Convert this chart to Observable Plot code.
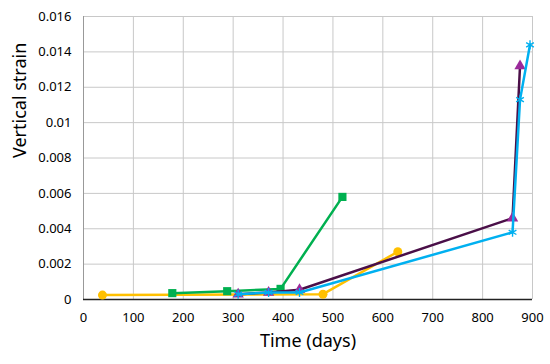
<!DOCTYPE html>
<html><head><meta charset="utf-8">
<script src="https://cdn.jsdelivr.net/npm/d3@7"></script>
<script src="https://cdn.jsdelivr.net/npm/@observablehq/plot@0.6"></script>
<style>body{margin:0;background:#fff}</style>
</head><body><div id="chart"></div>
<script>
const xTicks = [0,100,200,300,400,500,600,700,800,900];
const yTicks = [0,0.002,0.004,0.006,0.008,0.01,0.012,0.014,0.016];
const yTickLabels = ["0","0.002","0.004","0.006","0.008","0.01","0.012","0.014","0.016"];

const yellowDays = [38, 480, 630];
const yellowStrain = [0.00025, 0.0003, 0.0027];
const greenDays = [178, 288, 395, 519];
const greenStrain = [0.00036, 0.00047, 0.0006, 0.0058];
const purpleDays = [310, 371, 433, 860, 875];
const purpleStrain = [0.0003, 0.0004, 0.00055, 0.0046, 0.0132];
const blueDays = [310, 371, 433, 860, 875, 895];
const blueStrain = [0.0003, 0.0004, 0.0004, 0.0038, 0.0113, 0.0144];

const toRows = (xs, ys) => xs.map((x, i) => ({x, y: ys[i]}));
const yellow = toRows(yellowDays, yellowStrain);
const green = toRows(greenDays, greenStrain);
const purple = toRows(purpleDays, purpleStrain);
const blue = toRows(blueDays, blueStrain);

const font = "'Noto Sans', sans-serif";
const chart = Plot.plot({
  width: 550, height: 364,
  marginLeft: 83, marginRight: 18, marginTop: 16, marginBottom: 65,
  style: {fontFamily: font, fontSize: "13px", color: "#000", background: "#fff"},
  x: {domain: [0, 900]},
  y: {domain: [0, 0.016]},
  marks: [
    Plot.gridX(xTicks, {stroke: "#c8c8c8", strokeOpacity: 1, strokeWidth: 1}),
    Plot.gridY(yTicks, {stroke: "#c8c8c8", strokeOpacity: 1, strokeWidth: 1}),
    Plot.ruleX([0], {stroke: "#999"}),
    Plot.ruleY([0], {stroke: "#222", strokeWidth: 1.3}),
    Plot.axisX({ticks: xTicks, tickSize: 0, tickPadding: 13, fontSize: 13, label: null}),
    Plot.axisY({ticks: yTicks, tickSize: 0, tickPadding: 12, fontSize: 13, label: null,
      tickFormat: (d) => yTickLabels[yTicks.indexOf(d)]}),
    Plot.text(["Vertical strain"], {frameAnchor: "left", dx: -63, rotate: -90, fontSize: 18}),
    Plot.text(["Time (days)"], {frameAnchor: "bottom", dy: 47, fontSize: 18}),

    Plot.line(yellow, {x: "x", y: "y", stroke: "#FFC000", strokeWidth: 2.5}),
    Plot.dot(yellow, {x: "x", y: "y", fill: "#FFC000", r: 4.5, symbol: "circle"}),

    Plot.line(green, {x: "x", y: "y", stroke: "#00B050", strokeWidth: 2.5}),
    Plot.dot(green, {x: "x", y: "y", fill: "#00B050", r: 4.6, symbol: "square"}),

    Plot.line(purple, {x: "x", y: "y", stroke: "#4A0F48", strokeWidth: 2.5}),
    Plot.dot(purple, {x: "x", y: "y", fill: "#9B2A9B", r: 4.2, symbol: "triangle"}),

    Plot.line(blue, {x: "x", y: "y", stroke: "#00B0F0", strokeWidth: 2.5}),
    Plot.dot(blue, {x: "x", y: "y", stroke: "#00B0F0", r: 4.2, strokeWidth: 1.4, symbol: "asterisk"})
  ]
});
document.getElementById("chart").append(chart);
</script>
</body></html>
